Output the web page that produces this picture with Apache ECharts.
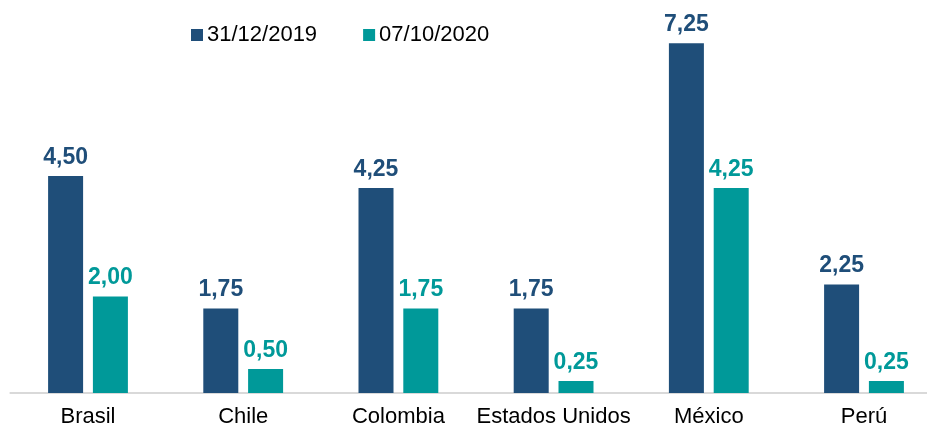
<!DOCTYPE html>
<html>
<head>
<meta charset="utf-8">
<script src="https://cdn.jsdelivr.net/npm/echarts@6/dist/echarts.min.js"></script>
<style>
  html, body { margin: 0; padding: 0; background: #fff; }
  #chart { width: 927px; height: 431px; }
</style>
</head>
<body>
<div id="chart"></div>
<script>
// datos del gráfico
const paises = ['Brasil', 'Chile', 'Colombia', 'Estados Unidos', 'México', 'Perú'];
const serie2019 = [4.50, 1.75, 4.25, 1.75, 7.25, 2.25];
const serie2020 = [2.00, 0.50, 1.75, 0.25, 4.25, 0.25];
const nombres = ['31/12/2019', '07/10/2020'];

const azul = '#1F4E79';
const verde = '#009999';
const fuente = 'Liberation Sans, Arial, sans-serif';

// formato con coma decimal
function fmt(p) {
    return p.value.toFixed(2).replace('.', ',');
}

function serie(nombre, datos, color) {
    return {
        name: nombre,
        type: 'bar',
        data: datos,
        barWidth: 35,
        barGap: '28%',
        itemStyle: { color: color },
        label: {
            show: true,
            position: 'top',
            distance: 7,
            formatter: fmt,
            fontFamily: fuente,
            fontWeight: 'bold',
            fontSize: 23,
            color: color
        }
    };
}

const chart = echarts.init(document.getElementById('chart'));
const option = {
    animation: false,
    legend: {
        left: 186,
        top: 19,
        itemWidth: 12,
        itemHeight: 12,
        itemGap: 46,
        icon: 'rect',
        textStyle: {
            fontFamily: fuente,
            fontSize: 22,
            color: '#000',
            padding: [0, 0, 0, -1]
        },
        data: nombres
    },
    grid: {
        top: 7,
        bottom: 38,
        left: 10.4,
        width: 931.2,
        outerBoundsMode: 'none'
    },
    xAxis: {
        type: 'category',
        data: paises,
        axisLine: { lineStyle: { color: '#D9D9D9', width: 2 } },
        axisTick: { show: false },
        axisLabel: {
            interval: 0,
            margin: 13,
            fontFamily: fuente,
            fontSize: 22,
            color: '#000'
        }
    },
    yAxis: {
        type: 'value',
        min: 0,
        max: 8,
        show: false,
        splitLine: { show: false }
    },
    series: [
        serie(nombres[0], serie2019, azul),
        serie(nombres[1], serie2020, verde)
    ]
};
chart.setOption(option);
</script>
</body>
</html>
